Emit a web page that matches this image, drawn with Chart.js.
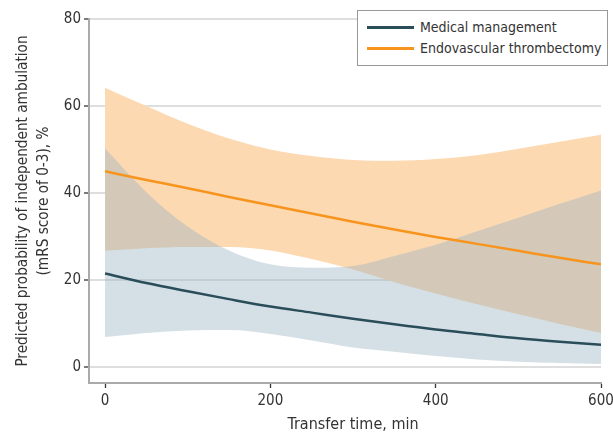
<!DOCTYPE html>
<html>
<head>
<meta charset="utf-8">
<script src="https://cdn.jsdelivr.net/npm/chart.js@4.4.1/dist/chart.umd.min.js"></script>
<style>
  body { margin: 0; background: #fff; }
  #wrap { position: relative; width: 613px; height: 436px; }
  #legend {
    position: absolute; left: 357px; top: 10px; width: 251px; height: 56px;
    box-sizing: border-box; border: 1px solid #999; background: #fff;
    font: 14px "DejaVu Sans Condensed", "DejaVu Sans", sans-serif; color: #333;
  }
  .item { position: absolute; left: 9px; height: 18px; display: flex; align-items: center; }
  .swatch { width: 47px; height: 3px; margin-right: 6px; }
</style>
</head>
<body>
<div id="wrap">
  <canvas id="chart" width="613" height="436"></canvas>
  <div id="legend">
    <div class="item" style="top:7px"><span class="swatch" style="background:#2a4d5a"></span>Medical management</div>
    <div class="item" style="top:28px"><span class="swatch" style="background:#f7941d"></span>Endovascular thrombectomy</div>
  </div>
</div>
<script>
const transferTime = [0, 50, 100, 150, 200, 250, 300, 350, 400, 450, 500, 550, 600];

const medical      = [21.5, 19.3, 17.4, 15.6, 13.9, 12.5, 11.1, 9.8, 8.6, 7.6, 6.6, 5.8, 5.1];
const medicalLower = [6.9, 7.8, 8.4, 8.5, 7.6, 6.1, 4.5, 3.5, 2.5, 1.7, 1.2, 0.9, 0.7];
const medicalUpper = [50.3, 40.2, 32.3, 26.8, 23.6, 22.8, 23.2, 25.5, 28.1, 31.2, 34.3, 37.5, 40.6];

const evt      = [45, 43, 41.1, 39.1, 37.2, 35.3, 33.4, 31.6, 29.9, 28.3, 26.7, 25.1, 23.6];
const evtLower = [26.7, 27.3, 27.6, 27.6, 26.8, 24.8, 22.4, 19.5, 16.9, 14.4, 12.1, 9.9, 7.8];
const evtUpper = [64.2, 60.0, 55.9, 52.5, 50.0, 48.5, 47.6, 47.4, 47.8, 48.7, 50.2, 51.8, 53.4];

const xTicks = [0, 200, 400, 600];
const yTicks = [0, 20, 40, 60, 80];

const FONT = '"DejaVu Sans Condensed", "DejaVu Sans", sans-serif';
const TEXT = "#333";

function pts(values) {
  return values.map((v, i) => ({ x: transferTime[i], y: v }));
}

function bandEdge(values, order) {
  return {
    data: pts(values),
    borderColor: "transparent",
    borderWidth: 0,
    pointRadius: 0,
    fill: false,
    order: order,
  };
}

// x-axis title centered on the data range, not the axis
const xTitlePlugin = {
  id: "xTitle",
  afterDraw(chart) {
    const { ctx, scales } = chart;
    ctx.save();
    ctx.font = "16px " + FONT;
    ctx.fillStyle = TEXT;
    ctx.textAlign = "center";
    ctx.textBaseline = "middle";
    ctx.fillText("Transfer time, min", scales.x.getPixelForValue(300), 425);
    ctx.restore();
  },
};

new Chart(document.getElementById("chart"), {
  type: "line",
  data: {
    datasets: [
      {
        label: "Medical management",
        data: pts(medical),
        borderColor: "#2a4d5a",
        borderWidth: 2.5,
        pointRadius: 0,
        fill: false,
        order: 0,
      },
      {
        label: "Endovascular thrombectomy",
        data: pts(evt),
        borderColor: "#f7941d",
        borderWidth: 2.5,
        pointRadius: 0,
        fill: false,
        order: 0,
      },
      bandEdge(medicalLower, 3),
      { ...bandEdge(medicalUpper, 1), fill: { target: 2 }, backgroundColor: "rgba(150,177,192,0.4)" },
      bandEdge(evtLower, 3),
      { ...bandEdge(evtUpper, 2), fill: { target: 4 }, backgroundColor: "#fdd9b2" },
    ],
  },
  options: {
    responsive: false,
    animation: false,
    cubicInterpolationMode: "monotone",
    layout: { padding: { left: 0, right: 12, top: 19, bottom: 0 } },
    plugins: {
      legend: { display: false },
      tooltip: { enabled: false },
    },
    scales: {
      x: {
        type: "linear",
        min: -19.4,
        max: 600,
        afterBuildTicks: (s) => { s.ticks = xTicks.map((v) => ({ value: v })); },
        afterFit: (s) => { s.height = 53; s.paddingRight = 0; s.paddingLeft = 0; },
        grid: { drawOnChartArea: false, tickLength: 5, tickColor: TEXT, tickWidth: 1.3 },
        border: { color: "#aaa", width: 2 },
        ticks: { padding: 4, color: TEXT, font: { family: FONT, size: 15 } },
      },
      y: {
        min: -3.68,
        max: 80,
        z: 1,
        afterBuildTicks: (s) => { s.ticks = yTicks.map((v) => ({ value: v })); },
        afterFit: (s) => { s.width = 89; },
        grid: { color: "rgba(0,0,0,0.13)", lineWidth: 2, tickLength: 5, tickColor: TEXT, tickWidth: 1.3 },
        border: { color: "#aaa", width: 2 },
        ticks: { padding: 3, color: TEXT, font: { family: FONT, size: 15 } },
        title: {
          display: true,
          text: ["Predicted probability of independent ambulation", "(mRS score of 0-3), %"],
          color: TEXT,
          font: { family: FONT, size: 15.2, lineHeight: 1.35 },
          padding: { top: 13, bottom: 0 },
        },
      },
    },
  },
  plugins: [xTitlePlugin],
});
</script>
</body>
</html>
